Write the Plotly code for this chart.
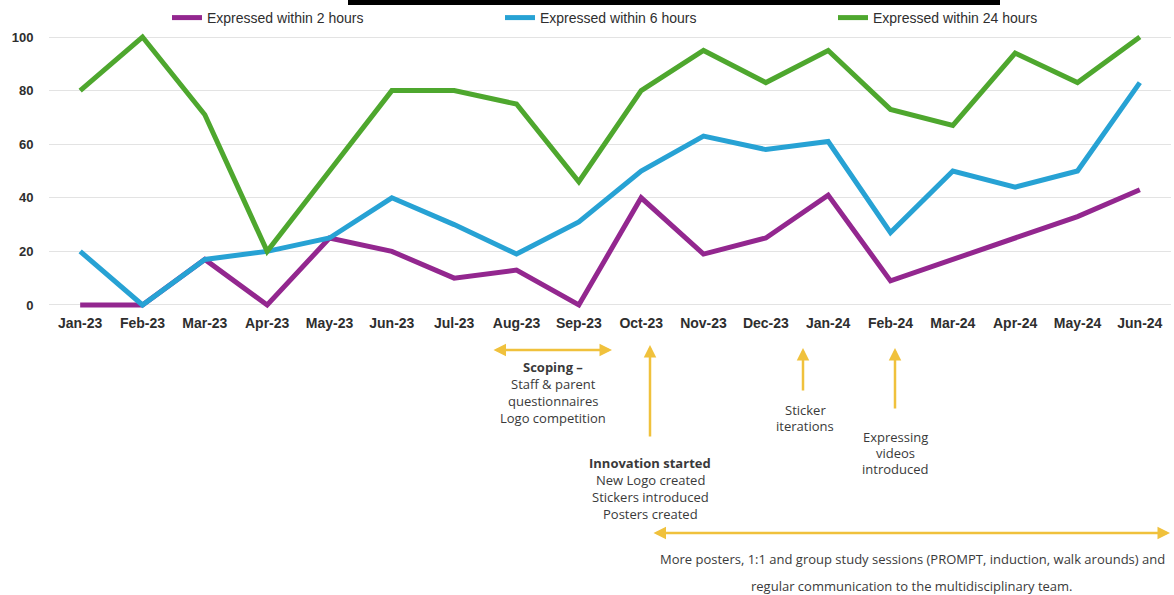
import plotly.graph_objects as go

# Monthly share of patients (%) expressing within each time window
months = ["Jan-23", "Feb-23", "Mar-23", "Apr-23", "May-23", "Jun-23", "Jul-23", "Aug-23", "Sep-23",
          "Oct-23", "Nov-23", "Dec-23", "Jan-24", "Feb-24", "Mar-24", "Apr-24", "May-24", "Jun-24"]
within_2h = [0, 0, 17, 0, 25, 20, 10, 13, 0, 40, 19, 25, 41, 9, 17, 25, 33, 43]
within_6h = [20, 0, 17, 20, 25, 40, 30, 19, 31, 50, 63, 58, 61, 27, 50, 44, 50, 83]
within_24h = [80, 100, 71, 20, 50, 80, 80, 75, 46, 80, 95, 83, 95, 73, 67, 94, 83, 100]
y_ticks = [0, 20, 40, 60, 80, 100]

series = [
    ("Expressed within 2 hours", within_2h, "#93278F"),
    ("Expressed within 6 hours", within_6h, "#27A2D4"),
    ("Expressed within 24 hours", within_24h, "#4EA72E"),
]

# Page geometry (pixels)
W, H = 1174, 595
L, R, T, B = 49, 1171, 29, 313
Y0, Y1 = -3, 103
X0, X1 = -0.5, len(months) - 0.5


def px_x(p):
    """Pixel column -> paper x."""
    return (p - L) / (R - L)


def px_y(p):
    """Pixel row -> paper y."""
    return (B - p) / (B - T)


fig = go.Figure()
for name, vals, color in series:
    fig.add_trace(go.Scatter(x=months, y=vals, name=name, mode="lines",
                             line=dict(color=color, width=5)))

GOLD = "#F0C13C"
TXT = "#3A3A3A"
FONT = "Open Sans"

annotations = []


def arrow(x_head, y_head, x_tail, y_tail, both=False):
    annotations.append(dict(
        x=px_x(x_head), y=px_y(y_head), xref="paper", yref="paper",
        ax=x_tail - x_head, ay=y_tail - y_head, axref="pixel", ayref="pixel",
        text="", showarrow=True, arrowhead=2, arrowsize=1, arrowwidth=2.5,
        arrowcolor=GOLD, arrowside="end+start" if both else "end",
        standoff=0, startstandoff=0,
    ))


def text_block(cx, rows, lines, size=13):
    for row, line in zip(rows, lines):
        annotations.append(dict(
            x=px_x(cx), y=px_y(row), xref="paper", yref="paper", text=line,
            showarrow=False, xanchor="center", yanchor="middle",
            font=dict(family=FONT, size=size, color=TXT),
        ))


# Scoping phase
arrow(612, 350, 492, 350, both=True)
text_block(553, [367, 384, 401, 418],
           ["<b>Scoping –</b>", "Staff & parent", "questionnaires", "Logo competition"])

# Innovation start
arrow(650, 345, 650, 438)
text_block(650, [463, 480, 497, 514],
           ["<b>Innovation started</b>", "New Logo created", "Stickers introduced", "Posters created"])

# Sticker iterations
arrow(803, 348, 803, 392)
text_block(805, [410, 426], ["Sticker", "iterations"])

# Expressing videos
arrow(895, 348, 895, 410)
text_block(895, [437, 453, 469], ["Expressing", "videos", "introduced"])

# Ongoing activity
arrow(1170, 533, 652, 533, both=True)
text_block(912, [559, 586],
           ["More posters, 1:1 and group study sessions (PROMPT, induction, walk arounds) and",
            "regular communication to the multidisciplinary team."])

fig.update_layout(
    width=W, height=H,
    margin=dict(l=L, r=W - R, t=T, b=H - B, pad=0, autoexpand=False),
    paper_bgcolor="white", plot_bgcolor="white",
    font=dict(family="Liberation Sans", color="#2E2E2E"),
    showlegend=True,
    legend=dict(orientation="h", x=px_x(167), xref="paper", y=px_y(18), yref="paper",
                xanchor="left", yanchor="middle",
                entrywidth=288, entrywidthmode="pixels",
                font=dict(family="Liberation Sans", size=14, color="#2E2E2E"),
                bgcolor="rgba(0,0,0,0)", borderwidth=0),
    xaxis=dict(type="category", range=[X0, X1], showgrid=False, showline=False,
               zeroline=False, ticks="",
               tickfont=dict(family="Liberation Sans", size=14, color="#2E2E2E", weight="bold")),
    yaxis=dict(range=[Y0, Y1], tickvals=y_ticks, showgrid=True, gridcolor="#E3E3E3",
               gridwidth=1, zeroline=False, showline=False,
               ticks="outside", ticklen=12, tickcolor="rgba(0,0,0,0)",
               tickfont=dict(family="Liberation Sans", size=13, color="#2E2E2E", weight="bold")),
    annotations=annotations,
    shapes=[dict(type="rect", xref="paper", yref="paper",
                 x0=px_x(348), x1=px_x(1000), y0=px_y(5), y1=px_y(-2),
                 fillcolor="black", line=dict(width=0), layer="above")],
)

fig.write_html("out.html")
